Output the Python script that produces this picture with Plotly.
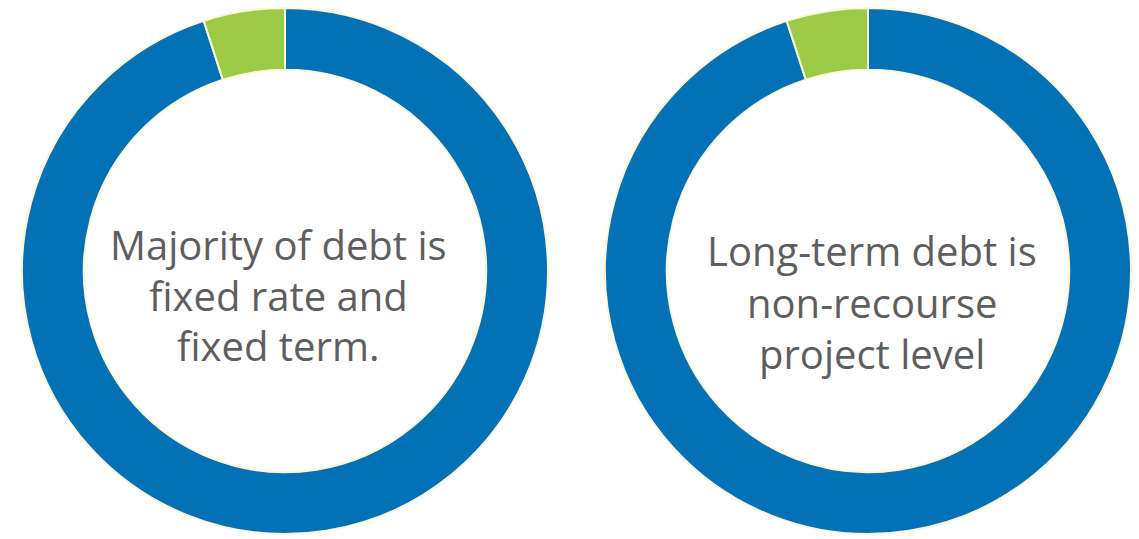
import plotly.graph_objects as go

# Debt composition shares (percent of total) for each donut
labels = ["Majority", "Other"]
fixed_rate_values = [95, 5]
non_recourse_values = [95, 5]
center_lines = [
    ["Majority of debt is", "fixed rate and", "fixed term."],
    ["Long-term debt is", "non-recourse", "project level"],
]

W, H = 1139, 539
BLUE = "#0071B5"
GREEN = "#9BCB45"
EDGE = "#FFF6DA"
TEXT = "#5E5E5E"
FONT_SIZE = 40

def xdom(cx, r):
    return [(cx - r) / W, (cx + r) / W]

def ydom(cy, r):
    return [1 - (cy + r) / H, 1 - (cy - r) / H]

R = 263
centers = [(285, 271), (868, 271)]

fig = go.Figure()
for (cx, cy), vals in zip(centers, [fixed_rate_values, non_recourse_values]):
    fig.add_trace(go.Pie(
        labels=labels,
        values=vals,
        hole=0.765,
        sort=False,
        direction="clockwise",
        rotation=0,
        textinfo="none",
        hoverinfo="label+percent",
        marker=dict(colors=[BLUE, GREEN], line=dict(color=EDGE, width=2)),
        domain=dict(x=xdom(cx, R), y=ydom(cy, R)),
        showlegend=False,
    ))

# Text baselines (pixels from top) for each centre label
text_x = [278, 872]
baselines = [[259, 310, 360], [265, 317, 368]]
for tx, lines, bls in zip(text_x, center_lines, baselines):
    for line, bl in zip(lines, bls):
        fig.add_annotation(
            x=tx / W, y=1 - (bl - 0.36 * FONT_SIZE) / H,
            xref="paper", yref="paper",
            text=line, showarrow=False, xanchor="center", yanchor="middle",
            align="center",
            font=dict(family="Open Sans", size=FONT_SIZE, color=TEXT),
        )

fig.update_layout(
    width=W, height=H,
    margin=dict(l=0, r=0, t=0, b=0),
    paper_bgcolor="white",
    plot_bgcolor="white",
)

fig.write_html("out.html")
